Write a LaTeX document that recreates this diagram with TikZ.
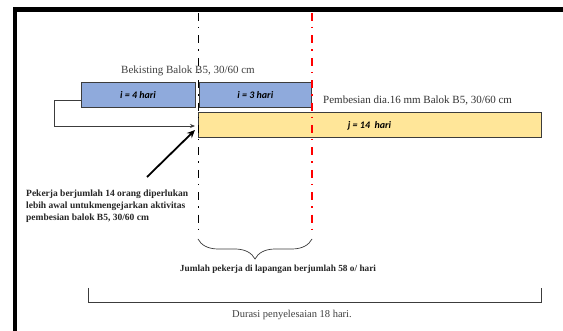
\documentclass[tikz,border=0pt]{standalone}
\usepackage{fontspec}
\setmainfont{Liberation Serif}
\newfontfamily\carl{Carlito}
\usetikzlibrary{arrows.meta,decorations.pathreplacing}
\definecolor{boxblue}{HTML}{8FAADC}
\definecolor{boxyellow}{HTML}{FFE699}
\definecolor{edgegray}{HTML}{3C3C3C}
\definecolor{txtgray}{HTML}{404040}
\definecolor{linered}{RGB}{255,0,0}
\tikzset{
  taskbox/.style={draw=edgegray, line width=1pt, minimum height=25pt, inner sep=0pt,
    font=\carl\bfseries\itshape\fontsize{10}{11}\selectfont},
  blackdd/.style={draw=black, line width=1.6pt, dash pattern=on 8pt off 6pt on 1.4pt off 7pt},
  reddd/.style={draw=linered, line width=1.6pt, dash pattern=on 8pt off 6pt on 1.4pt off 7pt},
  note/.style={inner sep=0pt, text=txtgray, font=\fontsize{11}{12}\selectfont},
  boldnote/.style={inner sep=0pt, text=black!85, font=\bfseries\fontsize{9.5}{12.3}\selectfont},
  thinline/.style={draw=edgegray, line width=0.8pt}
}
\begin{document}
\begin{tikzpicture}[x=1pt,y=-1pt]
\useasboundingbox (0,0) rectangle (563,331);
\fill[white] (0,0) rectangle (563,331);
% frame
\draw[line width=4.5pt] (15,331) -- (15,9.5) -- (563,9.5);
% boxes
\node[taskbox, fill=boxblue, minimum width=114pt] (b1) at (138,95.5) {i = 4 hari};
\node[taskbox, fill=boxblue, minimum width=112.5pt] (b2) at (255.3,95.5) {i = 3 hari};
\node[taskbox, fill=boxyellow, minimum width=343pt] (yb) at (369.5,125.5) {j = 14\ \ hari};
% vertical dash-dot lines
\coordinate (bt) at (198.5,13);
\coordinate (bb) at (198.5,232);
\coordinate (rt) at (311.7,13);
\coordinate (rb) at (311.7,231);
\path[blackdd] (bt) -- (bb);
\path[reddd] (rt) -- (rb);
% labels
\node[note, anchor=base] (lbek) at (188,74) {Bekisting Balok B5, 30/60 cm};
\node[note, anchor=base west, text=black!80] (lpem) at (323,104) {Pembesian dia.16 mm Balok B5, 30/60 cm};
% connector from b1 to yellow box
\coordinate (c1) at (81,100);
\coordinate (c2) at (54,100);
\coordinate (c3) at (195,126);
\draw[thinline, -{Stealth[length=5pt,width=4pt]}] (c1) -- (c2) |- (c3);
% annotation
\node[boldnote, anchor=north west, align=left] (ann) at (26,189.5)
  {Pekerja berjumlah 14 orang diperlukan\\lebih awal untukmengejarkan aktivitas\\pembesian balok B5, 30/60 cm};
\coordinate (at) at (147,177);
\coordinate (ah) at (195,130);
\draw[line width=1.8pt, -{Stealth[length=8pt,width=7pt]}] (at) -- (ah);
% brace
\coordinate (br1) at (198,239);
\coordinate (br2) at (312,239);
\draw[thinline, line width=0.7pt, decorate, decoration={brace, mirror, amplitude=20pt}] (br1) -- (br2);
\node[boldnote, anchor=base, font=\bfseries\fontsize{9.3}{12}\selectfont] (ljum) at (278,272) {Jumlah pekerja di lapangan berjumlah 58 o/ hari};
% bottom bracket
\coordinate (k1) at (88,288);
\coordinate (k2) at (88,302);
\coordinate (k3) at (541,302);
\coordinate (k4) at (541,288);
\draw[thinline] (k1) -- (k2) -- (k3) -- (k4);
\node[note, anchor=base, font=\fontsize{10.5}{12}\selectfont] (ldur) at (292,318) {Durasi penyelesaian 18 hari.};
\end{tikzpicture}
\end{document}
